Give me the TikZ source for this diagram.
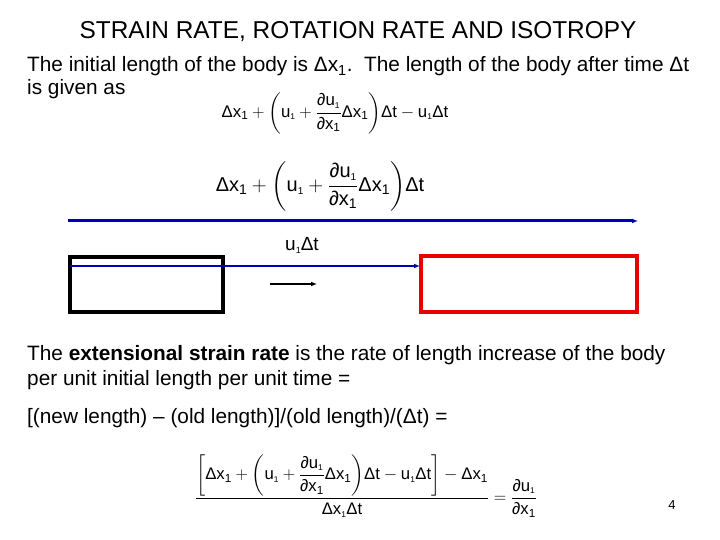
\documentclass[tikz,border=0pt]{standalone}
\usepackage{amsmath}
\usepackage{fontspec}
\setmainfont{Liberation Sans}
\usetikzlibrary{arrows.meta}
\definecolor{dblue}{RGB}{0,0,185}
\definecolor{rred}{RGB}{232,0,0}
\newcommand\tx[1]{\text{#1}}
\newcommand\sone{{\scriptscriptstyle\tx{1}}}
\newcommand\eqA{\tx{Δx}_{\tx{1}} + \left(\tx{u}_{\sone} + \dfrac{\tx{∂u}_{\sone}}{\tx{∂x}_{\tx{1}}}\tx{Δx}_{\tx{1}}\right)\!\tx{Δt}}
\tikzset{
  txt/.style={anchor=base west, inner sep=0pt, font=\fontsize{20.8bp}{24bp}\selectfont},
  eqn/.style={inner sep=0pt},
  body/.style={draw, line width=3.5bp, minimum width=153bp, minimum height=55bp, inner sep=0pt},
  bluearrow/.style={draw=dblue, line width=#1, -{Latex[length=6bp,width=5bp]}},
}
\begin{document}
\begin{tikzpicture}[x=1bp,y=-1bp]
\useasboundingbox (0,0) rectangle (720,540);
\node[anchor=base, inner sep=0pt, font=\fontsize{24.4bp}{27bp}\selectfont] (title) at (358,39) {STRAIN RATE, ROTATION RATE AND ISOTROPY};
\node[txt] (l1) at (27,72) {The initial length of the body is Δx\textsubscript{1}.\ \ The length of the body after time Δt};
\node[txt] (l2) at (27,95) {is given as};
\node[eqn, font=\fontsize{16.8bp}{19bp}\selectfont] (eq1) at (335,113) {$\eqA - \tx{u}_{\sone}\tx{Δt}$};
\node[eqn, font=\fontsize{20bp}{23bp}\selectfont] (eq2) at (320,186) {$\eqA$};
\coordinate (a1s) at (68,221); \coordinate (a1e) at (638,221);
\draw[bluearrow=3bp] (a1s) -- (a1e);
\node[eqn, font=\fontsize{19bp}{21bp}\selectfont] (ulab) at (302,245) {u{\fontsize{9bp}{10bp}\selectfont\raisebox{-3bp}{1}}Δt};
\node[body] (box1) at (146.5,284.5) {};
\node[body, draw=rred, minimum width=216bp, minimum height=56bp] (box2) at (529,284) {};
\coordinate (a2s) at (70,266); \coordinate (a2e) at (420,266);
\draw[bluearrow=2bp] (a2s) -- (a2e);
\coordinate (a3s) at (270,284); \coordinate (a3e) at (317,284);
\draw[line width=2.5bp, -{Latex[length=6bp,width=5bp]}] (a3s) -- (a3e);
\node[txt] (p1) at (27,360) {The \textbf{extensional strain rate} is the rate of length increase of the body};
\node[txt] (p2) at (27,385) {per unit initial length per unit time =};
\node[txt] (p3) at (27,423) {[(new length) – (old length)]/(old length)/(Δt) =};
\node[eqn, font=\fontsize{16.7bp}{19bp}\selectfont] (eq3) at (366,486) {$\dfrac{\left[\eqA - \tx{u}_{\sone}\tx{Δt}\right] - \tx{Δx}_{\tx{1}}}{\tx{Δx}_{\sone}\tx{Δt}} = \dfrac{\tx{∂u}_{\sone}}{\tx{∂x}_{\tx{1}}}$};
\node[anchor=base, inner sep=0pt, font=\fontsize{13bp}{15bp}\selectfont] (pg) at (672,509) {4};
\end{tikzpicture}
\end{document}
